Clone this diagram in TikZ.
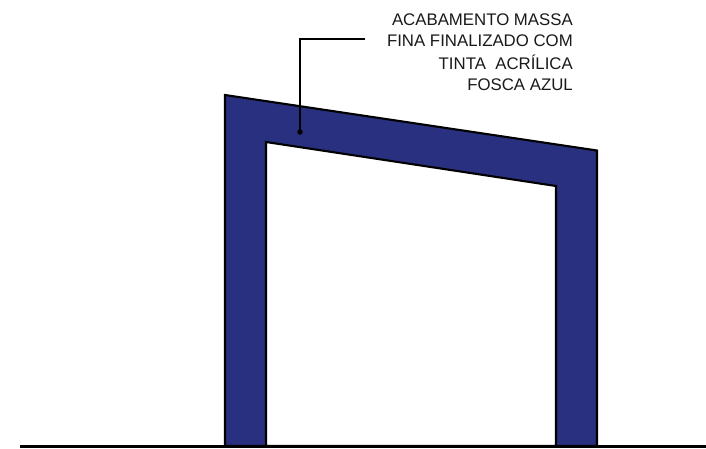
\documentclass[tikz,border=0pt]{standalone}
\usepackage{fontspec}
\setmainfont{Liberation Sans}
\definecolor{wallblue}{HTML}{29307F}
\definecolor{labelgrey}{HTML}{1A1A1A}
\tikzset{
  wall/.style={fill=wallblue,draw=black,line width=2.1pt,line join=miter},
  opening/.style={fill=white,draw=black,line width=2.1pt,line join=miter},
  ground/.style={draw=black,line width=2.8pt},
  leader/.style={draw=black,line width=1.7pt},
  leaderdot/.style={circle,fill=black,inner sep=0pt,minimum size=5.5pt},
  note/.style={anchor=base east,inner sep=0pt,text=labelgrey,font=\fontsize{16.8}{18}\selectfont}
}
\begin{document}
\begin{tikzpicture}[x=1pt,y=-1pt]
\useasboundingbox (0,0) rectangle (706,448);
\path[fill=white] (0,0) rectangle (706,448);
\path[wall] (225,95) -- (597,150.5) -- (597,446) -- (225,446) -- cycle;
\path[opening] (266,142) -- (556,186) -- (556,446) -- (266,446) -- cycle;
\coordinate (groundL) at (20,446.5);
\coordinate (groundR) at (706,446.5);
\draw[ground] (groundL) -- (groundR);
\node[note] (l1) at (573,25) {ACABAMENTO MASSA};
\node[note] (l2) at (573,46.5) {FINA FINALIZADO COM};
\node[note] (l3) at (573,69) {TINTA\ \ ACRÍLICA};
\node[note] (l4) at (573,90) {FOSCA AZUL};
\node[leaderdot] (dot) at (300,132) {};
\coordinate (leadEnd) at (365,39);
\draw[leader] (leadEnd) -| (dot.center);
\end{tikzpicture}
\end{document}
